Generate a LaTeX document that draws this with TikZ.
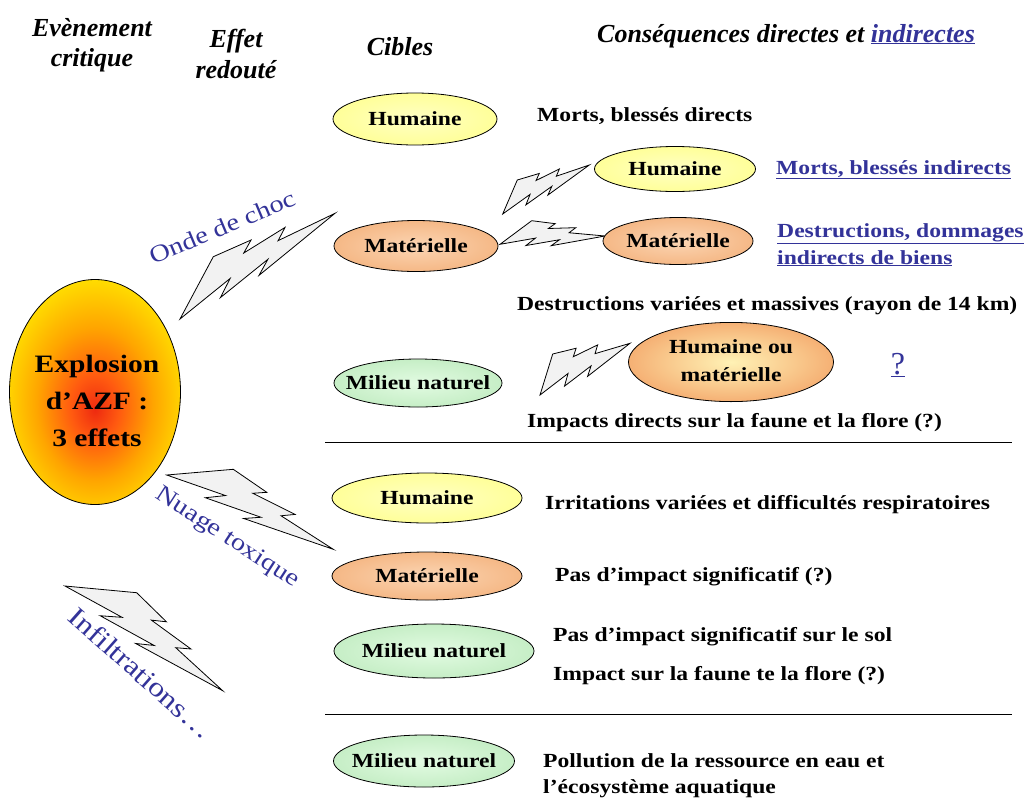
\documentclass[tikz,border=0pt]{standalone}
\usepackage{fontspec}
\setmainfont{Liberation Serif}
\newfontfamily\wfont[FakeStretch=1.18]{Liberation Serif}
\usetikzlibrary{shapes.geometric}
\definecolor{linkblue}{HTML}{333399}
\definecolor{boltfill}{HTML}{F2F2F2}
\definecolor{humin}{HTML}{FFFFC4}
\definecolor{humout}{HTML}{FFFF99}
\definecolor{matin}{HTML}{FBD5B3}
\definecolor{matout}{HTML}{F5B886}
\definecolor{milin}{HTML}{E2FBE2}
\definecolor{milout}{HTML}{C6EEC6}
\definecolor{homin}{HTML}{FFF2B5}
\definecolor{homout}{HTML}{F5B074}
\definecolor{azfa}{HTML}{EE2A10}
\definecolor{azfb}{HTML}{FF5A10}
\definecolor{azfc}{HTML}{FFA500}
\definecolor{azfd}{HTML}{FFE800}
\definecolor{azfe}{HTML}{FFFF00}
\pgfdeclareradialshading{azf}{\pgfpoint{0bp}{-4bp}}{color(0bp)=(azfa); color(7bp)=(azfb); color(17bp)=(azfc); color(29bp)=(azfd); color(40bp)=(azfe); color(50bp)=(azfe)}
\newcommand{\bp}[2]{({\bOx+#1*\bXx+#2*\bYx},{\bOy+#1*\bXy+#2*\bYy})}
\newcommand{\bolt}[6]{%
  \pgfmathsetmacro\bYx{(0.392*(#5-#1)-(#3-#1))/0.50144}%
  \pgfmathsetmacro\bYy{(0.392*(#6-#2)-(#4-#2))/0.50144}%
  \pgfmathsetmacro\bXx{(#5-#1)-0.82*\bYx}%
  \pgfmathsetmacro\bXy{(#6-#2)-0.82*\bYy}%
  \pgfmathsetmacro\bOx{#1-0.18*\bYx}%
  \pgfmathsetmacro\bOy{#2-0.18*\bYy}%
  \draw[boltstyle] \bp{0.392}{0} -- \bp{0.595}{0.281} -- \bp{0.512}{0.315} -- \bp{0.767}{0.556} -- \bp{0.684}{0.596} -- \bp{1}{1} -- \bp{0.464}{0.690} -- \bp{0.566}{0.647} -- \bp{0.233}{0.449} -- \bp{0.352}{0.388} -- \bp{0}{0.180} -- cycle;%
}
\begin{document}
\begin{tikzpicture}[x=1pt,y=-1pt,
  boltstyle/.style={fill=boltfill,draw=black,line width=0.8pt,line join=miter},
  ell/.style={ellipse,draw=black,line width=0.8pt,inner sep=0pt,font={\wfont\bfseries\fontsize{20}{28}\selectfont}},
  hum/.style={ell,inner color=humin,outer color=humout},
  mat/.style={ell,inner color=matin,outer color=matout},
  mil/.style={ell,inner color=milin,outer color=milout},
  cons/.style={anchor=base west,inner sep=0pt,font={\wfont\bfseries\fontsize{20}{24}\selectfont}},
  link/.style={cons,text=linkblue},
  hdr/.style={anchor=base,inner sep=0pt,font={\bfseries\itshape\fontsize{26}{30}\selectfont}},
  effect/.style={inner sep=0pt,text=linkblue},
  rule/.style={line width=0.9pt}]
\useasboundingbox (0,0) rectangle (1032,798);
\fill[white] (0,0) rectangle (1032,798);

% headers
\node[hdr] (h1a) at (92,36) {Evènement};
\node[hdr] (h1b) at (92,66) {critique};
\node[hdr] (h2a) at (236,47) {Effet};
\node[hdr] (h2b) at (236,78) {redouté};
\node[hdr] (h3) at (400,55) {Cibles};
\node[hdr,anchor=base west] (h4) at (597,42) {Conséquences directes et \textcolor{linkblue}{\underline{indirectes}}};

% lightning bolts
\bolt{180}{319}{213.3}{256.7}{335}{213.3}
\bolt{166.7}{475}{233.3}{469.3}{333.3}{549.3}
\bolt{65}{586}{136.7}{592.7}{222.7}{690.7}
\bolt{502.7}{214}{517.3}{180}{589.3}{165}
\bolt{500}{244.3}{531.7}{220.7}{605}{236}
\bolt{540}{395}{552.7}{354}{630}{343.3}

% explosion
\node[ellipse,draw=black,line width=0.8pt,minimum width=171,minimum height=225,shade,shading=azf] (azf) at (95,392) {};
\node[align=center,inner sep=0pt,font={\wfont\bfseries\fontsize{25}{37}\selectfont}] (azftext) at (97,401) {Explosion\\d’AZF :\\3 effets};

% effect labels
\node[effect,rotate=22.7,font={\wfont\fontsize{24}{28}\selectfont}] (onde) at (222,227) {Onde de choc};
\node[effect,rotate=-33,font={\wfont\fontsize{24}{28}\selectfont}] (nuage) at (227,538) {Nuage toxique};
\node[effect,rotate=-41.6,font={\wfont\fontsize{27}{30}\selectfont}] (infil) at (141,673) {Infiltrations…};

% targets, first section
\node[hum,minimum width=164,minimum height=52] (hum1) at (415,119) {\makebox[0pt]{Humaine}};
\node[mat,minimum width=164,minimum height=51] (mat1) at (416,246) {\makebox[0pt]{Matérielle}};
\node[mil,minimum width=168,minimum height=48] (mil1) at (418,383) {\makebox[0pt]{Milieu naturel}};
\node[hum,minimum width=161,minimum height=45] (hum2) at (675,169) {\makebox[0pt]{Humaine}};
\node[mat,minimum width=150,minimum height=47] (mat2) at (678,241) {\makebox[0pt]{Matérielle}};
\node[ell,inner color=homin,outer color=homout,minimum width=205,minimum height=70] (hom) at (731,362) {\makebox[0pt]{\begin{tabular}{@{}c@{}}Humaine ou\\matérielle\end{tabular}}};

% consequences, first section
\node[cons] (c1) at (537,121) {Morts, blessés directs};
\node[link] (c2) at (776,174) {\underline{Morts, blessés indirects}};
\node[link] (c3a) at (777,237) {\underline{Destructions, dommages}};
\node[link] (c3b) at (777,264) {\underline{indirects de biens}};
\node[cons] (c4) at (517,310) {Destructions variées et massives (rayon de 14 km)};
\node[anchor=base,inner sep=0pt,text=linkblue,font={\fontsize{32}{36}\selectfont}] (c5) at (898,374) {\underline{?}};
\node[cons] (c6) at (527,427) {Impacts directs sur la faune et la flore (?)};

% separators
\coordinate (s1a) at (325,442);
\coordinate (s1b) at (1012,442);
\coordinate (s2a) at (325,714);
\coordinate (s2b) at (1012,714);
\draw[rule] (s1a) -- (s1b);
\draw[rule] (s2a) -- (s2b);

% second section
\node[hum,minimum width=190,minimum height=50] (hum3) at (427,498) {\makebox[0pt]{Humaine}};
\node[mat,minimum width=190,minimum height=48] (mat3) at (427,576) {\makebox[0pt]{Matérielle}};
\node[mil,minimum width=200,minimum height=54] (mil3) at (434,651) {\makebox[0pt]{Milieu naturel}};
\node[cons] (c7) at (545,509) {Irritations variées et difficultés respiratoires};
\node[cons] (c8) at (555,581) {Pas d’impact significatif (?)};
\node[cons] (c9) at (553,641) {Pas d’impact significatif sur le sol};
\node[cons] (c10) at (553,680) {Impact sur la faune te la flore (?)};

% third section
\node[mil,minimum width=181,minimum height=52] (mil4) at (424,761) {\makebox[0pt]{Milieu naturel}};
\node[cons] (c11) at (543,767) {Pollution de la ressource en eau et};
\node[cons] (c12) at (543,793) {l’écosystème aquatique};
\end{tikzpicture}
\end{document}
